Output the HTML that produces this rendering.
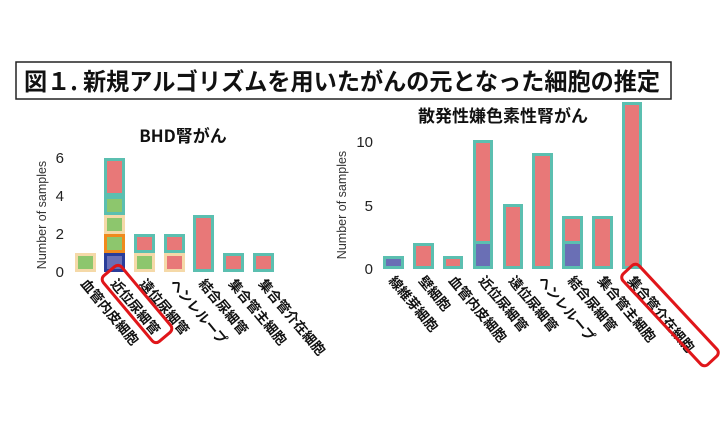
<!DOCTYPE html>
<html><head><meta charset="utf-8"><style>
html,body{margin:0;padding:0;background:#fff;}
svg{display:block;font-family:"Liberation Sans","Noto Sans CJK JP",sans-serif;}
.jp{font-family:"Noto Sans CJK JP","Liberation Sans",sans-serif;font-weight:bold;}
.tk{font-size:15px;fill:#222;}
</style></head><body>
<svg width="720" height="445" viewBox="0 0 720 445" xmlns="http://www.w3.org/2000/svg">
<rect x="16" y="62" width="655" height="37" fill="#fff" stroke="#222" stroke-width="1.5"/>
<text x="24" y="90" class="jp" font-size="24" fill="#111" textLength="636" lengthAdjust="spacingAndGlyphs">図１. 新規アルゴリズムを用いたがんの元となった細胞の推定</text>

<!-- Left chart -->
<text x="183" y="142" class="jp" font-size="17" text-anchor="middle" fill="#111">BHD腎がん</text>
<text transform="translate(46,215) rotate(-90)" font-size="12.5" text-anchor="middle" fill="#333">Number of samples</text>
<g class="tk" text-anchor="end">
<text x="64" y="277">0</text><text x="64" y="239">2</text><text x="64" y="201">4</text><text x="64" y="163">6</text>
</g>
<g stroke-width="3">
<rect x="76.5" y="254.5" width="18" height="16" fill="#8dc66d" stroke="#f5d9a8"/>
<rect x="105.5" y="254.5" width="18" height="16" fill="#6a6fb5" stroke="#2a3d9a"/>
<rect x="105.5" y="235.5" width="18" height="16" fill="#8dc66d" stroke="#f08a1c"/>
<rect x="105.5" y="216.5" width="18" height="16" fill="#8dc66d" stroke="#f5d9a8"/>
<rect x="105.5" y="197.5" width="18" height="16" fill="#8dc66d" stroke="#5bbfb0"/>
<rect x="105.5" y="159.5" width="18" height="35" fill="#e87878" stroke="#5bbfb0"/>
<rect x="135.5" y="254.5" width="18" height="16" fill="#8dc66d" stroke="#f5d9a8"/>
<rect x="135.5" y="235.5" width="18" height="16" fill="#e87878" stroke="#5bbfb0"/>
<rect x="165.5" y="254.5" width="18" height="16" fill="#e87878" stroke="#f5d9a8"/>
<rect x="165.5" y="235.5" width="18" height="16" fill="#e87878" stroke="#5bbfb0"/>
<rect x="194.5" y="216.5" width="18" height="54" fill="#e87878" stroke="#5bbfb0"/>
<rect x="224.5" y="254.5" width="18" height="16" fill="#e87878" stroke="#5bbfb0"/>
<rect x="254.5" y="254.5" width="18" height="16" fill="#e87878" stroke="#5bbfb0"/>
</g>
<g class="jp" font-size="13.5" fill="#111">
<text transform="translate(80,284) rotate(50)">血管内皮細胞</text>
<text transform="translate(110,284) rotate(50)">近位尿細管</text>
<text transform="translate(139,284) rotate(50)">遠位尿細管</text>
<text transform="translate(169,284) rotate(50)">ヘンレループ</text>
<text transform="translate(198,284) rotate(50)">結合尿細管</text>
<text transform="translate(228,284) rotate(50)">集合管主細胞</text>
<text transform="translate(258,284) rotate(50)">集合管介在細胞</text>
</g>
<rect x="-43" y="-12" width="86" height="24" rx="5" transform="translate(137,304) rotate(50)" fill="none" stroke="#e0161a" stroke-width="3"/>

<!-- Right chart -->
<text x="503" y="122" class="jp" font-size="17" text-anchor="middle" fill="#111">散発性嫌色素性腎がん</text>
<text transform="translate(346,205) rotate(-90)" font-size="12.5" text-anchor="middle" fill="#333">Number of samples</text>
<g class="tk" text-anchor="end">
<text x="373" y="274">0</text><text x="373" y="211">5</text><text x="373" y="147">10</text>
</g>
<g stroke-width="3" stroke="#5bbfb0">
<rect x="384.5" y="257.5" width="18" height="10" fill="#6a6fb5"/>
<rect x="414.5" y="244.5" width="18" height="23" fill="#e87878"/>
<rect x="444.5" y="257.5" width="17" height="10" fill="#e87878"/>
<rect x="474.5" y="242.5" width="17" height="25" fill="#6a6fb5"/>
<rect x="474.5" y="141.5" width="17" height="101" fill="#e87878"/>
<rect x="504.5" y="205.5" width="17" height="62" fill="#e87878"/>
<rect x="533.5" y="154.5" width="18" height="113" fill="#e87878"/>
<rect x="563.5" y="242.5" width="18" height="25" fill="#6a6fb5"/>
<rect x="563.5" y="217.5" width="18" height="25" fill="#e87878"/>
<rect x="593.5" y="217.5" width="18" height="50" fill="#e87878"/>
<rect x="623.5" y="103.5" width="17" height="164" fill="#e87878"/>
</g>
<g class="jp" font-size="13.5" fill="#111">
<text transform="translate(388,281) rotate(50)">線維芽細胞</text>
<text transform="translate(418,281) rotate(50)">壁細胞</text>
<text transform="translate(448,281) rotate(50)">血管内皮細胞</text>
<text transform="translate(478,281) rotate(50)">近位尿細管</text>
<text transform="translate(508,281) rotate(50)">遠位尿細管</text>
<text transform="translate(537,281) rotate(50)">ヘンレループ</text>
<text transform="translate(567,281) rotate(50)">結合尿細管</text>
<text transform="translate(597,281) rotate(50)">集合管主細胞</text>
<text transform="translate(627,281) rotate(50)">集合管介在細胞</text>
</g>
<rect x="-62" y="-11" width="124" height="22" rx="5" transform="translate(670,315) rotate(47)" fill="none" stroke="#e0161a" stroke-width="3"/>
</svg>
</body></html>
